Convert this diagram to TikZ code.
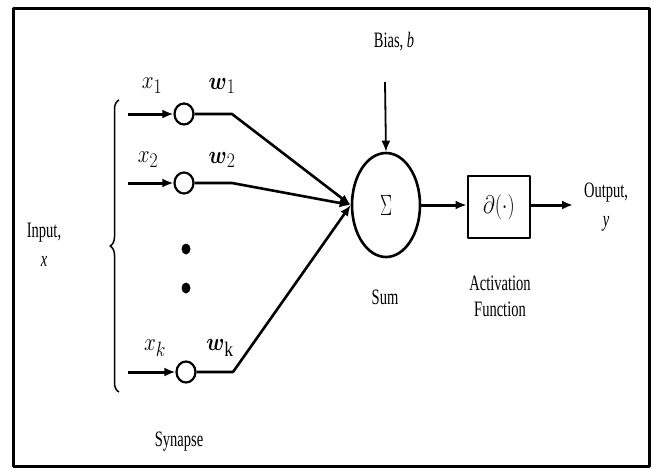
\documentclass[tikz,border=0pt]{standalone}
\usepackage{amsmath}
\usepackage{fontspec}
\setmainfont{Liberation Serif}
\usetikzlibrary{shapes.geometric,arrows.meta,decorations.pathreplacing,calc}
\newcommand{\nr}[1]{\scalebox{0.66}[1]{#1}}
\newcommand{\nm}[1]{\scalebox{0.85}[1]{#1}}
\begin{document}
\begin{tikzpicture}[x=1pt,y=-1pt,line join=round,
  lbl/.style={inner sep=0pt,font=\fontsize{22}{26}\selectfont},
  mlbl/.style={inner sep=0pt,font=\fontsize{24.88}{28}\selectfont},
  syn/.style={ellipse,draw,line width=2.2pt,minimum width=19pt,minimum height=21pt,inner sep=0pt},
  dotn/.style={ellipse,fill,minimum width=9pt,minimum height=11pt,inner sep=0pt},
  arr/.style={-{Latex[length=11pt,width=9pt]}},
  thick2/.style={line width=3pt},
  wire/.style={line width=2.6pt}]
\useasboundingbox (0,0) rectangle (654,469);
\draw[line width=3pt] (13,8) rectangle (649,466);

% synapse circles
\node[syn] (c1) at (184,114) {};
\node[syn] (c2) at (184,183) {};
\node[syn] (ck) at (186,372) {};
\node[dotn] (d1) at (186,249) {};
\node[dotn] (d2) at (186,288) {};

% sum and activation
\node[ellipse,draw,line width=2.6pt,minimum width=68pt,minimum height=104pt,inner sep=0pt] (sum) at (386,205)
  {\fontsize{24.88}{28}\selectfont\scalebox{0.72}[1.18]{$\Sigma$}};
\node[draw,line width=2.8pt,minimum width=62pt,minimum height=62pt,inner sep=0pt] (act) at (499,207)
  {\fontsize{24.88}{28}\selectfont\scalebox{0.82}[1.02]{$\partial(\cdot)$}};

% coordinates
\coordinate (i1) at (128,114);
\coordinate (i2) at (128,183);
\coordinate (ik) at (128,372);
\coordinate (k1) at (232,114);
\coordinate (k2) at (232,183);
\coordinate (kk) at (233,372);
\coordinate (btop) at (385,82);
\coordinate (out) at (573,205);
\coordinate (br1) at (119,392);
\coordinate (br2) at (119,100);

% inputs
\draw[thick2,arr] (i1) -- (c1.west);
\draw[thick2,arr] (i2) -- (c2.west);
\draw[thick2,arr] (ik) -- (ck.west);
\draw[wire,arr] (c1.east) -- (k1) -- (sum.west);
\draw[wire,arr] (c2.east) -- (k2) -- (sum.west);
\draw[wire,arr] (ck.east) -- (kk) -- (sum.west);

\draw[line width=1.8pt,arr] (btop) -- (sum.north);
\draw[thick2,arr] (sum.east) -- (act.west |- sum.east);
\draw[thick2,arr] (act.east |- sum.east) -- (out);

% brace
\draw[line width=1.5pt,decorate,decoration={brace,amplitude=9pt}] (br1) -- (br2);

% labels
\node[lbl] (lb) at (394,42) {\nr{Bias, \textit{b}}};
\node[lbl,align=center] (lin) at (44,245) {\nr{Input,}\\[3pt]\nr{\textit{x}}};
\node[lbl,align=center] (lout) at (606,207) {\nr{Output,}\\[3pt]\nr{\textit{y}}};
\node[lbl,align=center] (lact) at (500,296) {\nr{Activation}\\\nr{Function}};
\node[lbl] (lsum) at (385,297) {\nr{Sum}};
\node[lbl] (lsyn) at (179,442) {\nr{Synapse}};
\node[mlbl] (lx1) at (152,86) {\nm{$x_1$}};
\node[mlbl] (lw1) at (222,86) {\nm{$\boldsymbol{w}_1$}};
\node[mlbl] (lx2) at (148,160) {\nm{$x_2$}};
\node[mlbl] (lw2) at (222,160) {\nm{$\boldsymbol{w}_2$}};
\node[mlbl] (lxk) at (155,348) {\nm{$x_k$}};
\node[mlbl] (lwk) at (220,348) {\nm{$\boldsymbol{w}_{\mathrm{k}}$}};
\end{tikzpicture}
\end{document}
